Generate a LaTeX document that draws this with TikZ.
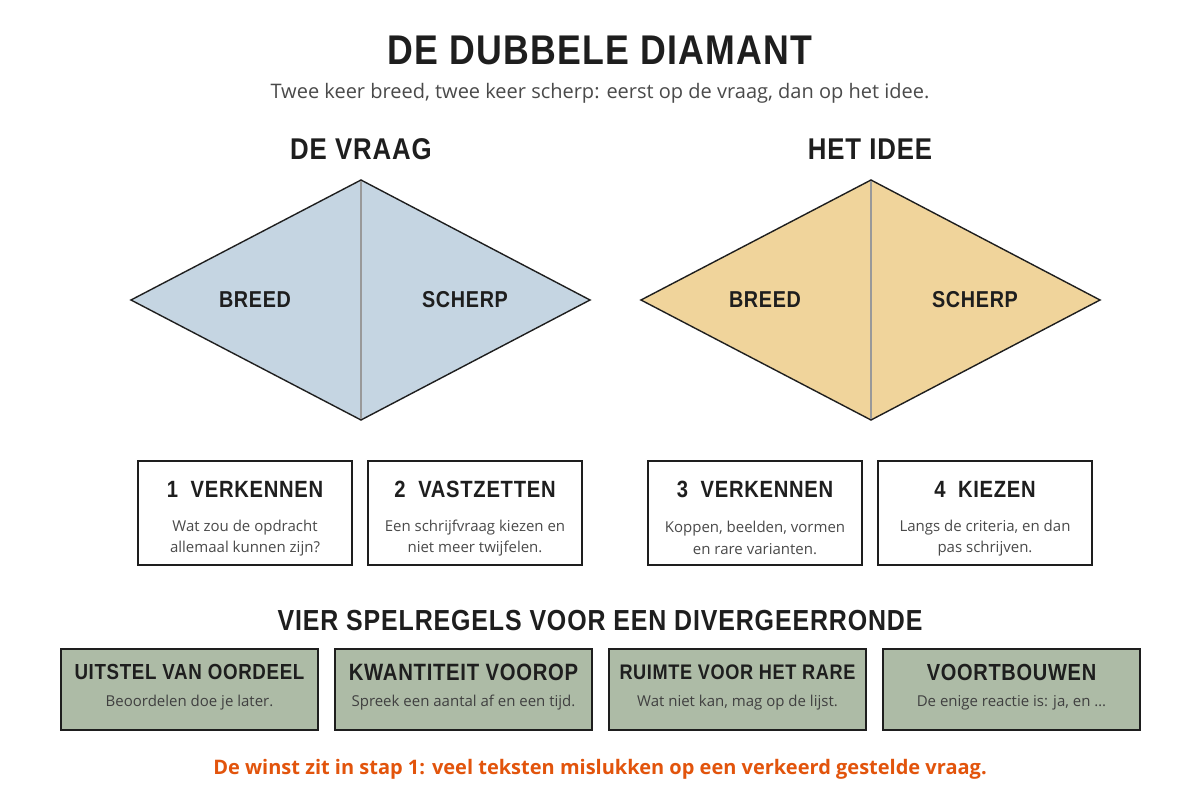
\documentclass[tikz,border=0pt]{standalone}
\usepackage{fontspec}
\setmainfont{Open Sans}
\newfontfamily\headfont[FakeStretch=0.86,LetterSpace=3]{Liberation Sans}
\usepackage{tikz}
\usetikzlibrary{positioning}

\definecolor{vraagblue}{HTML}{C5D5E2}
\definecolor{ideegold}{HTML}{F0D49B}
\definecolor{regelgreen}{HTML}{ADBBA6}
\definecolor{inkdark}{HTML}{1E1E1E}
\definecolor{subgray}{HTML}{4A4A4A}
\definecolor{winstorange}{HTML}{E2540C}

\tikzset{
  head/.style={font=\headfont\bfseries, text=inkdark, inner sep=0pt},
  stepbox/.style={draw=inkdark, line width=2.8pt, fill=white, minimum width=214pt, minimum height=104pt, inner sep=0pt},
  regelbox/.style={draw=inkdark, line width=2pt, fill=regelgreen, minimum width=257pt, minimum height=81pt, inner sep=0pt},
  desc/.style={font=\fontsize{15}{21.5}\selectfont, text=subgray, align=center, inner sep=0pt},
  half/.style={draw=inkdark, line width=1.4pt, line join=miter},
}

\begin{document}
\begin{tikzpicture}[x=1pt,y=-1pt]
        \useasboundingbox[fill=white] (0,0) rectangle (1200,800);

        \node[head, font=\headfont\bfseries\fontsize{41.5}{46}\selectfont] (titel) at (600,50) {DE DUBBELE DIAMANT};
        \node[text=subgray, font=\fontsize{20}{24}\selectfont, inner sep=0pt] (ondertitel) at (600,93) {Twee keer breed, twee keer scherp: eerst op de vraag, dan op het idee.};

        \node[head, font=\headfont\bfseries\fontsize{30}{34}\selectfont] (vraag) at (361,149) {DE VRAAG};
        \node[head, font=\headfont\bfseries\fontsize{30}{34}\selectfont] (idee) at (870,149) {HET IDEE};

        \draw[half, fill=vraagblue] (361,180) -- (131,300) -- (361,420) -- (590,300) -- cycle;
        \draw[gray!80, line width=1.4pt] (361,181) -- (361,419);
        \draw[half, fill=ideegold] (871,180) -- (641,300) -- (871,420) -- (1100,300) -- cycle;
        \draw[gray!80, line width=1.4pt] (871,181) -- (871,419);

        \node[head, font=\headfont\bfseries\fontsize{23}{26}\selectfont] (breed1) at (255,300) {BREED};
        \node[head, font=\headfont\bfseries\fontsize{23}{26}\selectfont] (scherp1) at (465,300) {SCHERP};
        \node[head, font=\headfont\bfseries\fontsize{23}{26}\selectfont] (breed2) at (765,300) {BREED};
        \node[head, font=\headfont\bfseries\fontsize{23}{26}\selectfont] (scherp2) at (975,300) {SCHERP};

        \node[stepbox] (stap1) at (245,513) {};
        \node[stepbox] (stap2) at (475,513) {};
        \node[stepbox] (stap3) at (755,513) {};
        \node[stepbox] (stap4) at (985,513) {};

        \node[head, font=\headfont\bfseries\fontsize{23.5}{28}\selectfont] at (245,489) {1\ \ VERKENNEN};
        \node[head, font=\headfont\bfseries\fontsize{23.5}{28}\selectfont] at (475,489) {2\ \ VASTZETTEN};
        \node[head, font=\headfont\bfseries\fontsize{23.5}{28}\selectfont] at (755,489) {3\ \ VERKENNEN};
        \node[head, font=\headfont\bfseries\fontsize{23.5}{28}\selectfont] at (985,489) {4\ \ KIEZEN};

        \node[desc] at (245,538) {Wat zou de opdracht\\allemaal kunnen zijn?};
        \node[desc] at (475,538) {Een schrijfvraag kiezen en\\niet meer twijfelen.};
        \node[desc] at (755,538) {Koppen, beelden, vormen\\en rare varianten.};
        \node[desc] at (985,538) {Langs de criteria, en dan\\pas schrijven.};

        \node[head, font=\headfont\bfseries\fontsize{29}{32}\selectfont] (regels) at (600,621) {VIER SPELREGELS VOOR EEN DIVERGEERRONDE};

        \node[regelbox] (regel1) at (189.5,689.5) {};
        \node[regelbox] (regel2) at (463.5,689.5) {};
        \node[regelbox] (regel3) at (737.5,689.5) {};
        \node[regelbox] (regel4) at (1011.5,689.5) {};

        \node[head, font=\headfont\bfseries\fontsize{21.8}{26}\selectfont] at (189.5,672) {UITSTEL VAN OORDEEL};
        \node[head, font=\headfont\bfseries\fontsize{23.6}{26}\selectfont] at (463.5,672) {KWANTITEIT VOOROP};
        \node[head, font=\headfont\bfseries\fontsize{21.1}{26}\selectfont] at (737.5,672) {RUIMTE VOOR HET RARE};
        \node[head, font=\headfont\bfseries\fontsize{23.3}{26}\selectfont] at (1011.5,672) {VOORTBOUWEN};

        \node[desc, text=inkdark!85] at (189.5,703) {Beoordelen doe je later.};
        \node[desc, text=inkdark!85] at (463.5,703) {Spreek een aantal af en een tijd.};
        \node[desc, text=inkdark!85] at (737.5,703) {Wat niet kan, mag op de lijst.};
        \node[desc, text=inkdark!85] at (1011.5,703) {De enige reactie is: ja, en \dots};

        \node[text=winstorange, font=\bfseries\fontsize{20}{23}\selectfont, inner sep=0pt] (winst) at (600,769) {De winst zit in stap 1: veel teksten mislukken op een verkeerd gestelde vraag.};
\end{tikzpicture}
\end{document}
